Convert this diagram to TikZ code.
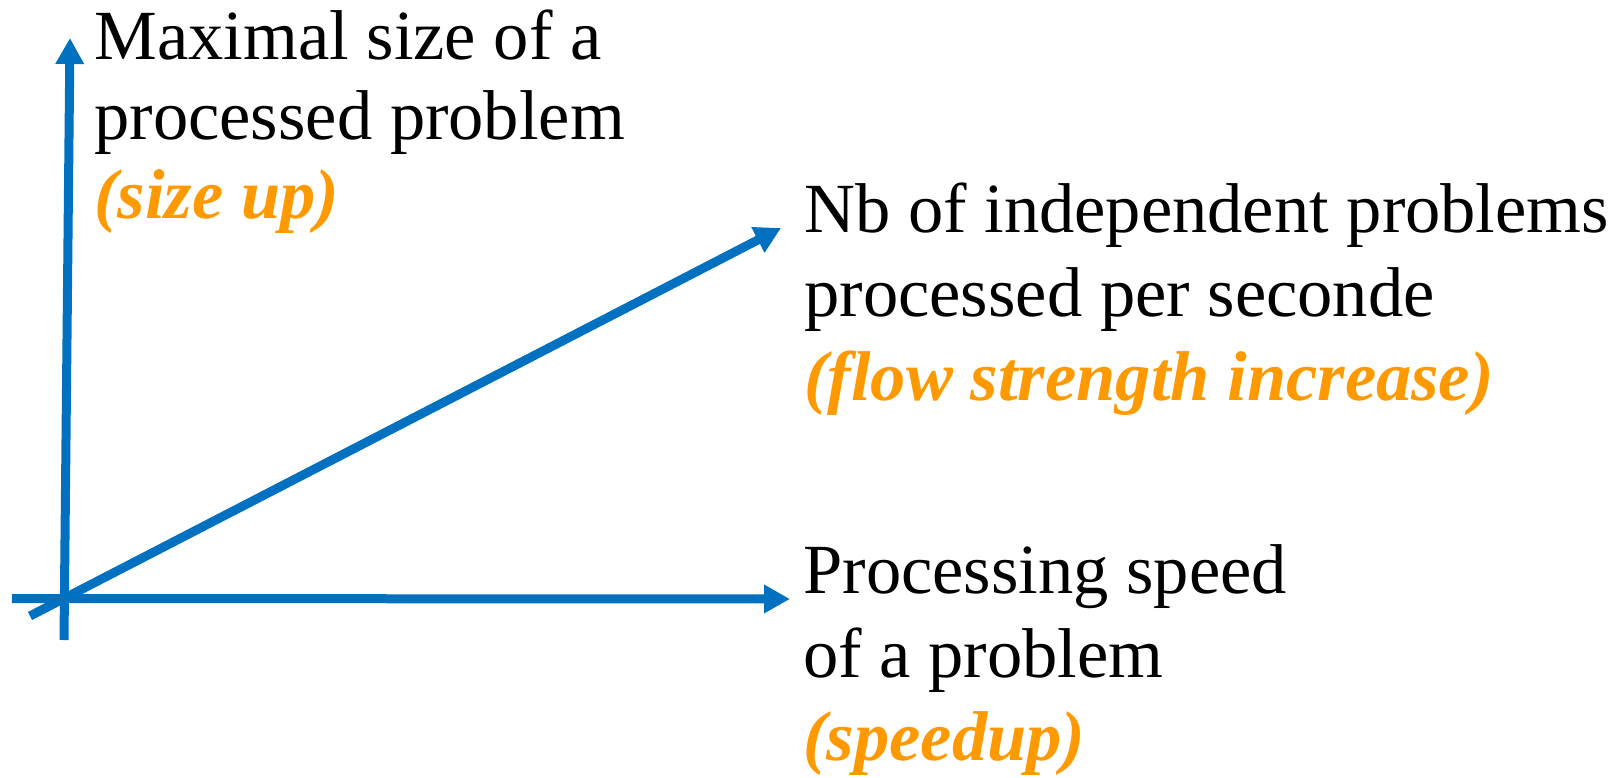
\documentclass[tikz,border=0pt]{standalone}
\usepackage{fontspec}
\setmainfont{Liberation Serif}
\usetikzlibrary{arrows.meta}
\definecolor{axisblue}{HTML}{0070C0}
\definecolor{noteorange}{HTML}{FF9900}
\tikzset{
  axis/.style={draw=axisblue, line width=4.5pt},
  axisarrow/.style={axis, -{Triangle[length=13pt, width=13.5pt]}},
  lbl/.style={anchor=base west, inner sep=0pt, font=\fontsize{35.25pt}{40pt}\selectfont},
  note/.style={lbl, text=noteorange, font=\fontsize{35.25pt}{40pt}\selectfont\bfseries\itshape}
}
\begin{document}
\begin{tikzpicture}[x=0.5pt,y=-0.5pt]
\useasboundingbox (0,0) rectangle (1617,777);
% axis end points
\coordinate (vb) at (64,640);
\coordinate (vt) at (70,38);
\coordinate (hl) at (12,598.5);
\coordinate (hr) at (790,599);
\coordinate (dl) at (30,616);
\coordinate (dr) at (781,228);
\draw[axisarrow] (vb) -- (vt);
\draw[axisarrow] (hl) -- (hr);
\draw[axisarrow] (dl) -- (dr);
% vertical axis label
\node[lbl] (v1) at (94,59) {Maximal size of a};
\node[lbl] (v2) at (94,139) {processed problem};
\node[note] (v3) at (94,218) {(size up)};
% diagonal axis label
\node[lbl] (d1) at (804,232) {Nb of independent problems};
\node[lbl] (d2) at (804,316) {processed per seconde};
\node[note] (d3) at (804,400) {(flow strength increase)};
% horizontal axis label
\node[lbl] (h1) at (803,593) {Processing speed};
\node[lbl] (h2) at (803,677) {of a problem};
\node[note] (h3) at (803,760) {(speedup)};
\end{tikzpicture}
\end{document}
